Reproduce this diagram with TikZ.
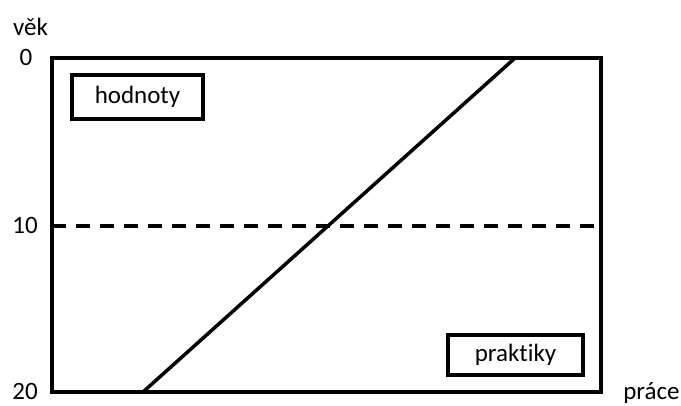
\documentclass[tikz,border=0pt]{standalone}
\usepackage{fontspec}
\setmainfont[Ligatures=NoCommon]{Carlito}
\usepackage{tikz}
\usetikzlibrary{positioning}

\begin{document}
\begin{tikzpicture}[x=1pt,y=-1pt,line width=4pt,font=\fontsize{25}{30}\selectfont]
        \useasboundingbox (0,0) rectangle (681,405);

        % Frame
        \coordinate (tl) at (52,58);
        \coordinate (br) at (600.5,392);
        \draw (tl) rectangle (br);

        % Nodes
        \node (hod) [draw, line width=3.5pt, minimum width=131pt, minimum height=44pt, inner sep=0pt] at (137.5,97) {hodnoty};
        \node (prak) [draw, line width=3.5pt, minimum width=135pt, minimum height=40pt, inner sep=0pt] at (515.5,355) {praktiky};

        % Axis labels
        \node (vek) [anchor=base] at (30.5,35) {věk};
        \node (t0) [anchor=base] at (26,65) {0};
        \node (t10) [anchor=base] at (25,233) {10};
        \node (t20) [anchor=base] at (25,399) {20};
        \node (prace) [anchor=base] at (651.5,399) {práce};

        % Lines
        \coordinate (d1) at (52,226);
        \coordinate (d2) at (600.5,226);
        \coordinate (s1) at (143,392);
        \coordinate (s2) at (515,58);
        \draw[dash pattern=on 14pt off 10pt] (d1) -- (d2);
        \draw[line width=3.5pt] (s1) -- (s2);

    \end{tikzpicture}
\end{document}
